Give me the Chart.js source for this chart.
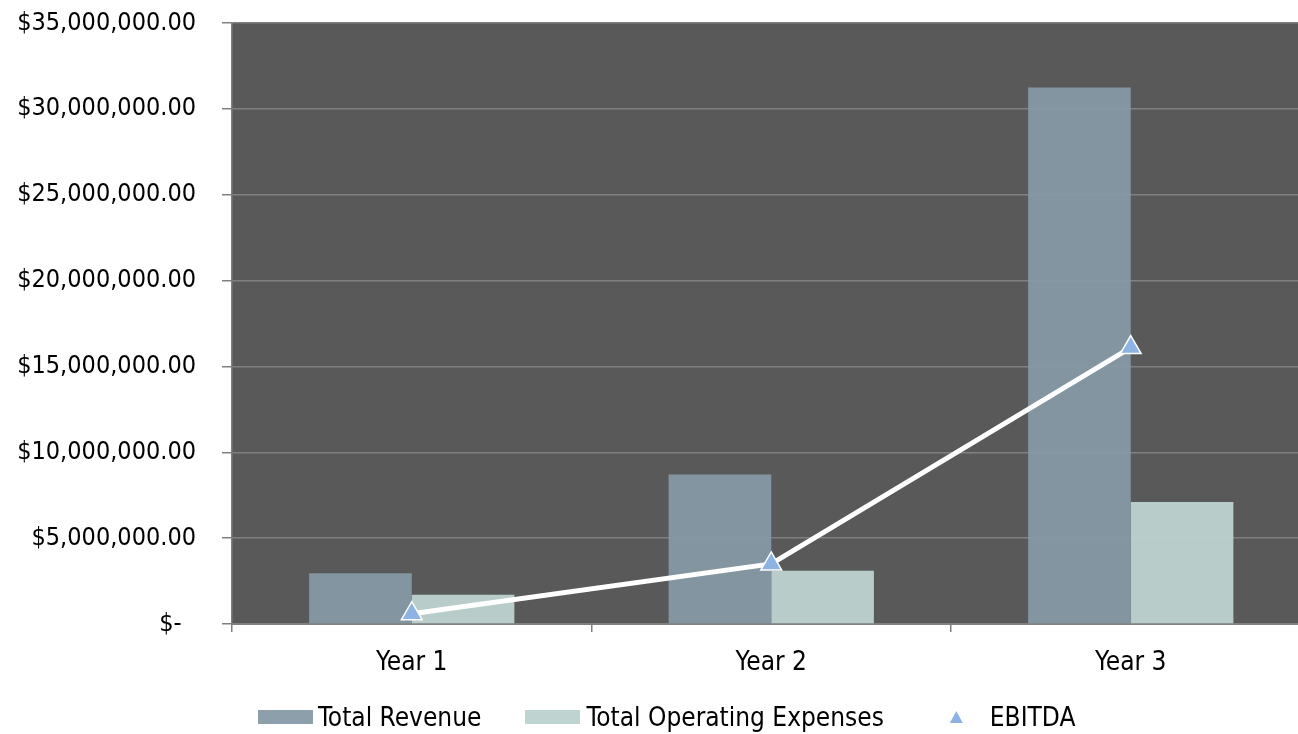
<!DOCTYPE html>
<html>
<head>
<meta charset="utf-8">
<script src="https://cdn.jsdelivr.net/npm/chart.js@4"></script>
<style>
  html, body { margin: 0; padding: 0; background: #fff; overflow: hidden; }
  #wrap { position: relative; width: 1298px; height: 734px; }
  canvas { display: block; }
  #legend {
    position: absolute; left: 258px; top: 702px; height: 30px;
    display: flex; align-items: center;
    font-family: "DejaVu Sans Condensed", "DejaVu Sans", sans-serif; font-size: 26px; color: #000;
  }
  .item { display: flex; align-items: center; }
  .box { width: 55px; height: 14px; margin-right: 5px; }
  .tri { width: 13px; height: 12px; margin-right: 27px; clip-path: polygon(50% 0, 100% 100%, 0 100%); }
</style>
</head>
<body>
<div id="wrap">
  <canvas id="chart" width="1298" height="734"></canvas>
  <div id="legend"></div>
</div>
<script>
// data
const categories = ['Year 1', 'Year 2', 'Year 3'];
const totalRevenue = [2950000, 8700000, 31250000];
const totalOpExpenses = [1700000, 3100000, 7100000];
const ebitda = [600000, 3500000, 16100000];
const yTickLabels = ['$-  ', '$5,000,000.00', '$10,000,000.00', '$15,000,000.00',
                     '$20,000,000.00', '$25,000,000.00', '$30,000,000.00', '$35,000,000.00'];

const FONT = '"DejaVu Sans Condensed", "DejaVu Sans", sans-serif';
const GRID = '#808080';

// dark plot background
const plotBg = {
    id: 'plotBg',
    beforeDraw(chart) {
        const a = chart.chartArea;
        const ctx = chart.ctx;
        ctx.save();
        ctx.fillStyle = '#595959';
        ctx.fillRect(a.left, a.top, a.right - a.left, a.bottom - a.top);
        ctx.restore();
    }
};

// the plot in the picture runs a little past the right edge
const extendRight = {
    id: 'extendRight',
    afterLayout(chart) {
        const r = chart.width + 12.5;
        const x = chart.scales.x;
        chart.chartArea.right = r;
        chart.chartArea.width = r - chart.chartArea.left;
        x.right = r;
        x.width = r - x.left;
        x.configure();
    }
};

const chart = new Chart(document.getElementById('chart'), {
    type: 'bar',
    data: {
        labels: categories,
        datasets: [
            {
                label: 'EBITDA', type: 'line', data: ebitda, order: 0,
                borderColor: '#ffffff', borderWidth: 5, tension: 0,
                pointStyle: 'triangle', pointRadius: 12, pointHoverRadius: 12,
                pointBackgroundColor: '#8db3e2', pointBorderColor: '#ffffff', pointBorderWidth: 1.5
            },
            {
                label: 'Total Revenue', data: totalRevenue, order: 1,
                backgroundColor: 'rgba(133,153,165,0.94)',
                barPercentage: 1, categoryPercentage: 0.571
            },
            {
                label: 'Total Operating Expenses', data: totalOpExpenses, order: 1,
                backgroundColor: 'rgba(188,209,207,0.96)',
                barPercentage: 1, categoryPercentage: 0.571
            }
        ]
    },
    options: {
        responsive: false,
        animation: false,
        layout: { autoPadding: false, padding: { top: 23, right: 0, bottom: 0, left: 0 } },
        plugins: { legend: { display: false }, tooltip: { enabled: false } },
        scales: {
            x: {
                grid: { drawOnChartArea: false, drawTicks: true, tickLength: 8, color: GRID, lineWidth: 1.5 },
                border: { color: GRID, width: 2 },
                ticks: { color: '#000', padding: 16, font: { family: FONT, size: 26 } },
                afterFit: (s) => { s.height = 110; s.paddingLeft = 0; s.paddingRight = 0; }
            },
            y: {
                min: 0, max: 35000000,
                grid: { color: GRID, lineWidth: 1.5, tickLength: 10 },
                border: { color: GRID, width: 1.5 },
                ticks: {
                    stepSize: 5000000, color: '#000', padding: 26,
                    font: { family: FONT, size: 25 },
                    callback: (v, i) => yTickLabels[i]
                },
                afterFit: (s) => { s.width = 232; s.paddingTop = 0; s.paddingBottom = 0; }
            }
        }
    },
    plugins: [plotBg, extendRight]
});

// legend: boxes for bars, triangle for the line
const legend = document.getElementById('legend');
const order = [1, 2, 0];
order.forEach((di, k) => {
    const ds = chart.data.datasets[di];
    const item = document.createElement('div');
    item.className = 'item';
    const mark = document.createElement('div');
    if (ds.type === 'line') {
        mark.className = 'tri';
        mark.style.background = ds.pointBackgroundColor;
        item.style.marginLeft = '66px';
    } else {
        mark.className = 'box';
        mark.style.background = ds.backgroundColor;
        if (k > 0) { item.style.marginLeft = '44px'; mark.style.marginRight = '6px'; }
    }
    const txt = document.createElement('span');
    txt.textContent = ds.label;
    item.appendChild(mark);
    item.appendChild(txt);
    legend.appendChild(item);
});
</script>
</body>
</html>
